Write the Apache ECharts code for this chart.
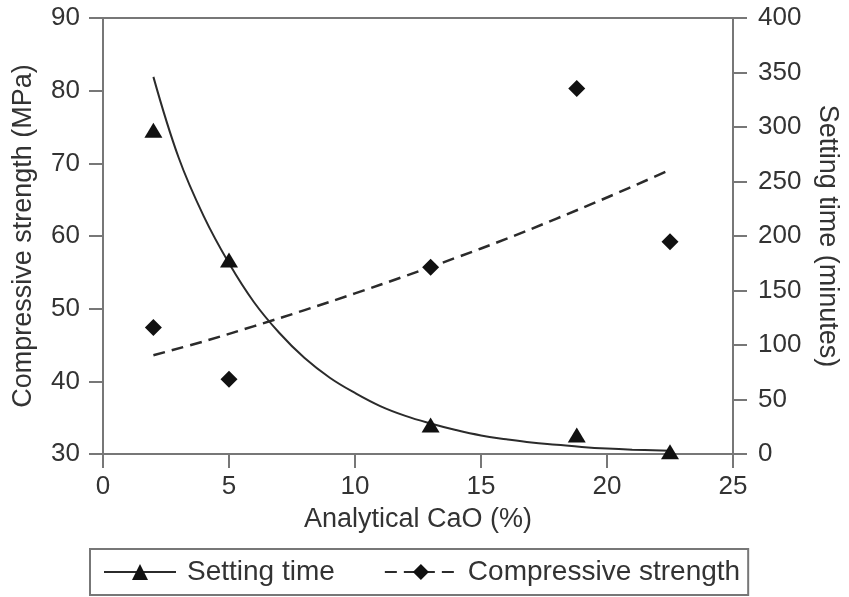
<!DOCTYPE html>
<html>
<head>
<meta charset="utf-8">
<title>Setting time and compressive strength vs CaO</title>
<script src="https://cdn.jsdelivr.net/npm/echarts@6/dist/echarts.min.js"></script>
<style>
    html, body { margin: 0; padding: 0; background: #fff; }
    .container { width: 849px; height: 597px; }
</style>
</head>
<body>
<div class="container"></div>
<script>
// x ticks / y ticks
var xTicks = [0, 5, 10, 15, 20, 25];
var strengthTicks = [30, 40, 50, 60, 70, 80, 90];
var timeTicks = [0, 50, 100, 150, 200, 250, 300, 350, 400];

// measured points  [CaO %, value]
var timePoints = [[2, 297], [5, 178], [13, 26.5], [18.8, 17.5], [22.5, 2]];
var strengthPoints = [[2, 47.4], [5, 40.3], [13, 55.7], [18.8, 80.3], [22.5, 59.2]];

// trend lines
var timeFit = [[2, 346], [3, 272], [4, 218], [5, 175], [6, 139], [7, 111], [8, 88], [9, 70],
    [10, 56], [11, 44], [12, 35], [13, 28], [14, 22], [15, 17], [16, 13.5], [17, 10.5],
    [18, 8.5], [19, 6.5], [20, 5], [21, 4], [22.5, 3]];
var strengthFit = [[2, 43.6], [4, 45.5], [6, 47.6], [8, 49.8], [10, 52.1], [12, 54.5],
    [14, 57.0], [16, 59.6], [18, 62.4], [20, 65.3], [22.5, 69.1]];

var names = ['Setting time', 'Compressive strength'];

var axisColor = '#777';
var textColor = '#333';
var font = '"Liberation Sans", Arial, sans-serif';

var dom = document.querySelector('.container');
var myChart = echarts.init(dom);

// shared axis look
function axisLine() {
    return { show: true, lineStyle: { color: axisColor, width: 2 } };
}
function axisTick() {
    return { show: true, inside: false, length: 14, lineStyle: { color: axisColor, width: 2 } };
}

var option = {
    animation: false,
    textStyle: { fontFamily: font },
    grid: {
        left: 103,
        right: 112,
        top: 18,
        bottom: 143,
        show: true,
        borderColor: axisColor,
        borderWidth: 2
    },
    legend: {
        data: names,
        left: 90,
        top: 549,
        itemWidth: 72,
        itemHeight: 20,
        itemGap: 49,
        padding: [9, 8, 9, 13],
        borderColor: axisColor,
        borderWidth: 2,
        textStyle: { fontSize: 28, color: textColor, fontFamily: font, padding: [0, 0, 0, 6] }
    },
    xAxis: {
        type: 'value',
        min: xTicks[0],
        max: xTicks[xTicks.length - 1],
        interval: 5,
        name: 'Analytical CaO (%)',
        nameLocation: 'middle',
        nameGap: 52,
        nameTextStyle: { fontSize: 27, color: textColor },
        axisLine: axisLine(),
        axisTick: axisTick(),
        axisLabel: { fontSize: 26, color: textColor, margin: 20 },
        splitLine: { show: false }
    },
    yAxis: [
        {
            type: 'value',
            position: 'left',
            min: strengthTicks[0],
            max: strengthTicks[strengthTicks.length - 1],
            interval: 10,
            name: 'Compressive strength (MPa)',
            nameLocation: 'middle',
            nameGap: 66,
            nameTextStyle: { fontSize: 27, color: textColor },
            axisLine: axisLine(),
            axisTick: axisTick(),
            axisLabel: { fontSize: 26, color: textColor, margin: 23 },
            splitLine: { show: false }
        },
        {
            type: 'value',
            position: 'right',
            min: timeTicks[0],
            max: timeTicks[timeTicks.length - 1],
            interval: 50,
            name: 'Setting time (minutes)',
            nameLocation: 'middle',
            nameRotate: -90,
            nameGap: 81,
            nameTextStyle: { fontSize: 27, color: textColor },
            axisLine: axisLine(),
            axisTick: axisTick(),
            axisLabel: { fontSize: 26, color: textColor, margin: 25 },
            splitLine: { show: false }
        }
    ],
    series: [
        {
            // solid trend, legend shows the triangle
            name: names[0],
            type: 'line',
            yAxisIndex: 1,
            data: timeFit,
            smooth: 0.4,
            symbol: 'triangle',
            symbolSize: [18, 15],
            showSymbol: false,
            lineStyle: { color: '#2b2b2b', width: 2 },
            itemStyle: { color: '#111' },
            z: 2
        },
        {
            // dashed trend
            name: names[1],
            type: 'line',
            yAxisIndex: 0,
            data: strengthFit,
            smooth: 0.4,
            symbol: 'diamond',
            symbolSize: 17,
            showSymbol: false,
            lineStyle: { color: '#2b2b2b', width: 2.5, type: [12, 7] },
            itemStyle: { color: '#111' },
            z: 2
        },
        {
            name: 'Setting time points',
            type: 'scatter',
            yAxisIndex: 1,
            data: timePoints,
            symbol: 'triangle',
            symbolSize: [18, 15],
            itemStyle: { color: '#111', opacity: 1 },
            z: 3
        },
        {
            name: 'Compressive strength points',
            type: 'scatter',
            yAxisIndex: 0,
            data: strengthPoints,
            symbol: 'diamond',
            symbolSize: 17,
            itemStyle: { color: '#111', opacity: 1 },
            z: 3
        }
    ]
};

if (option && typeof option === 'object') {
    myChart.setOption(option, true);
}
</script>
</body>
</html>
